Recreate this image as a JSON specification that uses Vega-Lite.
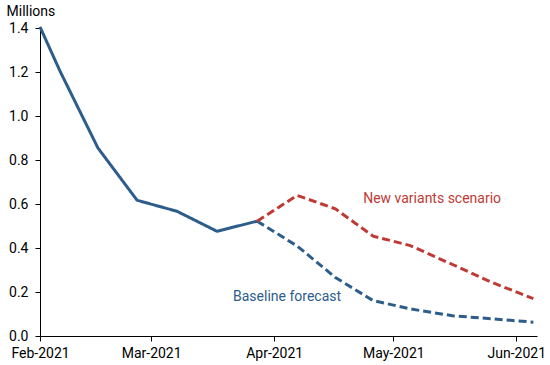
{
  "$schema": "https://vega.github.io/schema/vega-lite/v6.json",
  "width": 497,
  "height": 308,
  "autosize": {"type": "none"},
  "padding": {"left": 40, "top": 28, "right": 13, "bottom": 29},
  "config": {"view": {"stroke": null}, "font": "Roboto"},
  "datasets": {
    "series": [
      {"date": "2021-02-01T00:00:00", "value": 1.405, "series": "Actual"},
      {"date": "2021-02-06T01:00:00", "value": 1.204, "series": "Actual"},
      {"date": "2021-02-15T14:00:00", "value": 0.855, "series": "Actual"},
      {"date": "2021-02-25T11:00:00", "value": 0.617, "series": "Actual"},
      {"date": "2021-03-07T12:00:00", "value": 0.567, "series": "Actual"},
      {"date": "2021-03-17T14:00:00", "value": 0.476, "series": "Actual"},
      {"date": "2021-03-27T17:00:00", "value": 0.522, "series": "Actual"},
      {"date": "2021-03-27T17:00:00", "value": 0.522, "series": "Baseline"},
      {"date": "2021-04-06T19:00:00", "value": 0.409, "series": "Baseline"},
      {"date": "2021-04-16T10:00:00", "value": 0.266, "series": "Baseline"},
      {"date": "2021-04-25T22:00:00", "value": 0.161, "series": "Baseline"},
      {"date": "2021-05-05T07:00:00", "value": 0.123, "series": "Baseline"},
      {"date": "2021-05-15T22:00:00", "value": 0.092, "series": "Baseline"},
      {"date": "2021-05-25T22:00:00", "value": 0.078, "series": "Baseline"},
      {"date": "2021-06-05T07:00:00", "value": 0.063, "series": "Baseline"},
      {"date": "2021-03-27T17:00:00", "value": 0.522, "series": "New variants"},
      {"date": "2021-04-06T19:00:00", "value": 0.639, "series": "New variants"},
      {"date": "2021-04-16T10:00:00", "value": 0.578, "series": "New variants"},
      {"date": "2021-04-25T22:00:00", "value": 0.454, "series": "New variants"},
      {"date": "2021-05-05T07:00:00", "value": 0.411, "series": "New variants"},
      {"date": "2021-05-15T22:00:00", "value": 0.325, "series": "New variants"},
      {"date": "2021-05-25T22:00:00", "value": 0.243, "series": "New variants"},
      {"date": "2021-06-05T07:00:00", "value": 0.170, "series": "New variants"}
    ],
    "labels": [
      {"date": "2021-04-23T10:00:00", "value": 0.621, "text": "New variants scenario", "series": "New variants"},
      {"date": "2021-03-21T15:00:00", "value": 0.179, "text": "Baseline forecast", "series": "Baseline"}
    ]
  },
  "layer": [
    {
      "data": {"name": "series"},
      "mark": {"type": "line", "strokeWidth": 3},
      "encoding": {
        "x": {
          "field": "date",
          "type": "temporal",
          "scale": {"domain": [{"year": 2021, "month": 2, "date": 1}, {"year": 2021, "month": 6, "date": 6, "hours": 5}]},
          "axis": {
            "title": null,
            "format": "%b-%Y",
            "values": [
              {"year": 2021, "month": 2, "date": 1},
              {"year": 2021, "month": 3, "date": 1},
              {"year": 2021, "month": 4, "date": 1},
              {"year": 2021, "month": 5, "date": 1},
              {"year": 2021, "month": 6, "date": 1}
            ],
            "grid": false,
            "domainColor": "#000000",
            "tickColor": "#000000",
            "tickSize": 5,
            "labelColor": "#000000",
            "labelFontSize": 14,
            "labelPadding": 5,
            "labelFlush": false,
            "labelOverlap": false
          }
        },
        "y": {
          "field": "value",
          "type": "quantitative",
          "scale": {"domain": [0, 1.4], "nice": false},
          "axis": {
            "title": "Millions",
            "titleAngle": 0,
            "titleAlign": "left",
            "titleBaseline": "alphabetic",
            "titleX": -34,
            "titleY": -13,
            "titleFontSize": 14,
            "titleFontWeight": "normal",
            "titleColor": "#000000",
            "values": [0, 0.2, 0.4, 0.6, 0.8, 1.0, 1.2, 1.4],
            "format": ".1f",
            "grid": false,
            "domainColor": "#000000",
            "tickColor": "#000000",
            "tickSize": 5,
            "labelColor": "#000000",
            "labelFontSize": 14,
            "labelPadding": 7,
            "labelFlush": false
          }
        },
        "color": {
          "field": "series",
          "type": "nominal",
          "scale": {"domain": ["Actual", "Baseline", "New variants"], "range": ["#2d5d8b", "#2d5d8b", "#c03a35"]},
          "legend": null
        },
        "strokeDash": {
          "field": "series",
          "type": "nominal",
          "scale": {"domain": ["Actual", "Baseline", "New variants"], "range": [[1, 0], [8, 4], [8, 4]]},
          "legend": null
        },
        "detail": {"field": "series"}
      }
    },
    {
      "data": {"name": "labels"},
      "mark": {"type": "text", "align": "left", "baseline": "middle", "fontSize": 14},
      "encoding": {
        "x": {"field": "date", "type": "temporal"},
        "y": {"field": "value", "type": "quantitative"},
        "text": {"field": "text"},
        "color": {
          "field": "series",
          "type": "nominal",
          "scale": {"domain": ["Actual", "Baseline", "New variants"], "range": ["#2d5d8b", "#3a6a9c", "#c03a35"]},
          "legend": null
        }
      }
    }
  ]
}
